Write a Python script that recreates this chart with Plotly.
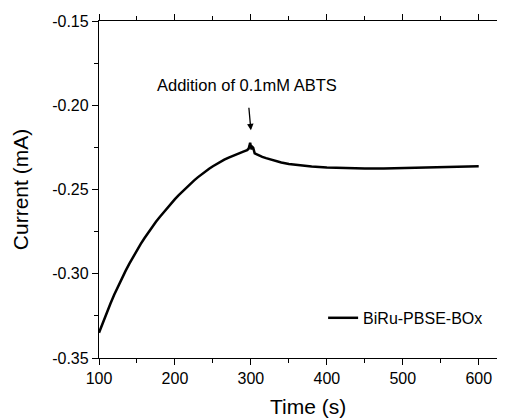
import plotly.graph_objects as go

time_s = [100, 105, 110, 115, 120, 125, 130, 135, 140, 145, 150, 155, 160, 165, 170, 175,
          180, 185, 190, 195, 200, 205, 210, 215, 220, 225, 230, 235, 240, 245, 250, 255,
          260, 265, 270, 275, 280, 285, 290, 295, 297, 298, 299, 300, 301, 302, 303, 305,
          310, 315, 320, 330, 340, 350, 360, 370, 380, 400, 425, 450, 475, 500, 525, 550,
          575, 600]
current_mA = [-0.335, -0.329, -0.3233, -0.3178, -0.3125, -0.3075, -0.3028, -0.2983, -0.294,
              -0.2899, -0.286, -0.2823, -0.2788, -0.2754, -0.2722, -0.2692, -0.2663,
              -0.2635, -0.2608, -0.2582, -0.2557, -0.2533, -0.251, -0.2488, -0.2467,
              -0.2447, -0.2428, -0.241, -0.2393, -0.2377, -0.2362, -0.2348, -0.2335,
              -0.2323, -0.2312, -0.2302, -0.2293, -0.2284, -0.2275, -0.2267, -0.2258,
              -0.2243, -0.2222, -0.2245, -0.2262, -0.2248, -0.2252, -0.2285, -0.2298,
              -0.2306, -0.2314, -0.2328, -0.234, -0.2349, -0.2355, -0.236, -0.2364,
              -0.2369, -0.2373, -0.2376, -0.2375, -0.2372, -0.2369, -0.2366, -0.2364, -0.2362]

series_name = "BiRu-PBSE-BOx"
x_title = "Time (s)"
y_title = "Current (mA)"
annotation_text = "Addition of 0.1mM ABTS"
x_ticks = [100, 200, 300, 400, 500, 600]
y_ticks = [-0.35, -0.30, -0.25, -0.20, -0.15]

FONT = "Liberation Sans, Arial, sans-serif"

fig = go.Figure()
fig.add_trace(go.Scatter(x=time_s, y=current_mA, mode="lines", name=series_name,
                         line=dict(color="black", width=2.5), showlegend=True))

axis_common = dict(showline=True, linecolor="black", linewidth=1.3, mirror="ticks",
                   ticks="outside", ticklen=6, tickwidth=1.3, tickcolor="black",
                   showgrid=False, zeroline=False, automargin=False,
                   tickfont=dict(family=FONT, size=16, color="black"))

fig.update_xaxes(range=[100, 634.6], tickvals=x_ticks, ticktext=[str(v) for v in x_ticks],
                 minor=dict(dtick=50, ticklen=3.5, tickwidth=1.2, tickcolor="black", ticks="outside"),
                 **axis_common)
fig.update_yaxes(range=[-0.35, -0.15], tickvals=y_ticks, ticktext=[f"{v:.2f}" for v in y_ticks],
                 minor=dict(dtick=0.025, ticklen=3.5, tickwidth=1.2, tickcolor="black", ticks="outside"),
                 title=dict(text=y_title, font=dict(family=FONT, size=21, color="black"), standoff=17),
                 **axis_common)

fig.add_annotation(x=300, y=-0.2149, xref="x", yref="y", text=annotation_text,
                   showarrow=True, arrowhead=2, arrowsize=1, arrowwidth=1.3, arrowcolor="black",
                   ax=-4, ay=-45, startstandoff=12,
                   font=dict(family=FONT, size=16.5, color="black"))

fig.add_annotation(x=0.515, y=-0.145, xref="paper", yref="paper", text=x_title,
                   showarrow=False, yanchor="middle", xanchor="center",
                   font=dict(family=FONT, size=21, color="black"))

# the page body has an 8px margin, so the figure is drawn 8px smaller than the window
fig.update_layout(width=497, height=411,
                  margin=dict(l=91, r=0, t=13, b=61),
                  paper_bgcolor="white", plot_bgcolor="white",
                  font=dict(family=FONT, color="black"),
                  legend=dict(x=0.552, y=0.119, xanchor="left", yanchor="middle",
                              bgcolor="rgba(0,0,0,0)", borderwidth=0,
                              font=dict(family=FONT, size=16, color="black")))

fig.write_html("out.html")
